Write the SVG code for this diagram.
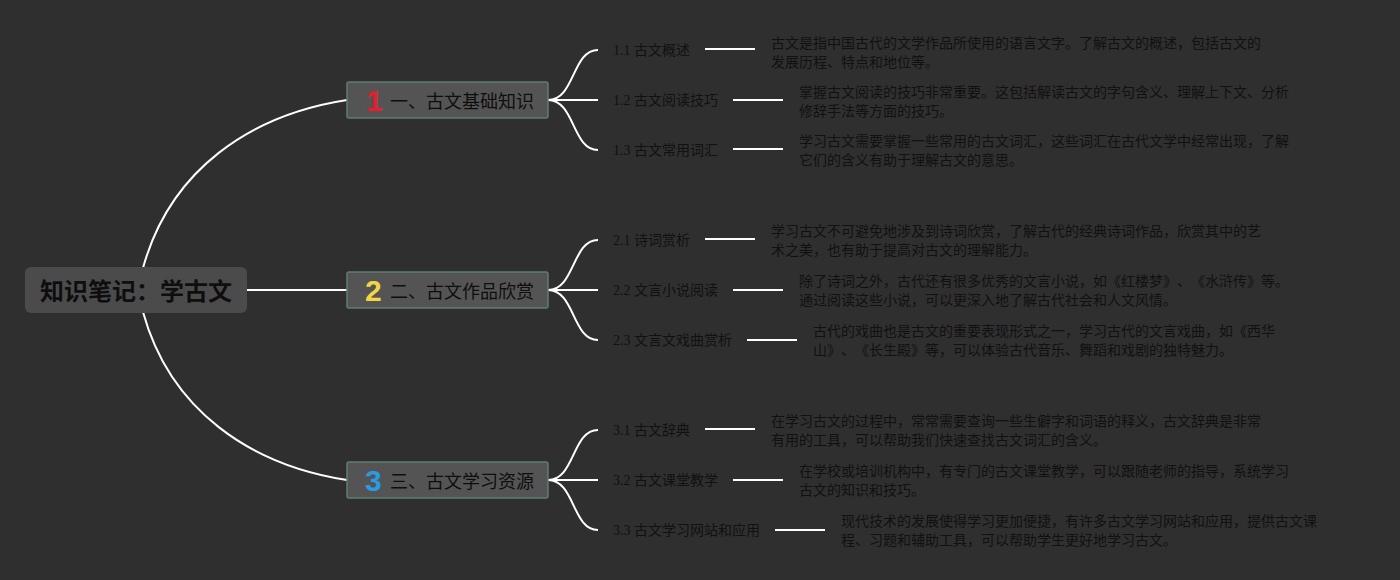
<svg xmlns="http://www.w3.org/2000/svg" width="1400" height="580" viewBox="0 0 1400 580">
<style>
text{text-spacing-trim:space-all}
.c{fill:none;stroke:#ffffff;stroke-width:2}
.root{fill:#4b4b4b}
.rt{font-family:"Noto Sans CJK SC","Liberation Sans",sans-serif;font-size:24px;font-weight:bold;fill:#0e0e0e}
.br{fill:#545454;stroke:#5e7d70;stroke-width:1.5}
.bt{font-family:"Noto Sans CJK SC","Liberation Sans",sans-serif;font-size:18px;fill:#0e0e0e}
.num{font-family:"Liberation Sans","Noto Sans CJK SC",sans-serif;font-size:30px;font-weight:bold}
.lb{font-family:"Liberation Serif","Noto Sans CJK SC",serif;font-size:14px;fill:#111}
.ds{font-family:"Noto Sans CJK SC","Liberation Sans",sans-serif;font-size:14px;fill:#111}
</style>
<rect width="1400" height="580" fill="#2f2f2f"/>
<g id="connectors">
<path class="c" d="M143,268 C170,170 250,115 347,100"/>
<path class="c" d="M246,290 L347,290"/>
<path class="c" d="M143,312 C170,410 250,465 347,480"/>
<path class="c" d="M548,100 C575,100 572,50 598,50"/>
<path class="c" d="M548,100 L598,100"/>
<path class="c" d="M548,100 C575,100 572,150 598,150"/>
<path class="c" d="M548,290 C575,290 572,240 598,240"/>
<path class="c" d="M548,290 L598,290"/>
<path class="c" d="M548,290 C575,290 572,340 598,340"/>
<path class="c" d="M548,480 C575,480 572,430 598,430"/>
<path class="c" d="M548,480 L598,480"/>
<path class="c" d="M548,480 C575,480 572,530 598,530"/>
<path class="c" d="M705,49 H755 M733,100 H783 M733,149 H783"/>
<path class="c" d="M705,239 H755 M733,290 H783 M747,340 H797"/>
<path class="c" d="M705,429 H755 M733,480 H783 M775,530 H825"/>
</g>
<g id="root">
<rect class="root" x="25" y="267" width="222" height="46" rx="6"/>
<text class="rt" x="136" y="300" text-anchor="middle">知识笔记：学古文</text>
</g>
<g id="b1">
<rect class="br" x="347" y="82" width="201" height="36" rx="2"/>
<text class="num" x="366" y="111" fill="#e3202e">1</text>
<text class="bt" x="390" y="108">一、古文基础知识</text>
</g>
<g id="b2">
<rect class="br" x="347" y="272" width="201" height="36" rx="2"/>
<text class="num" x="365" y="301" fill="#f4d444">2</text>
<text class="bt" x="390" y="298">二、古文作品欣赏</text>
</g>
<g id="b3">
<rect class="br" x="347" y="462" width="201" height="36" rx="2"/>
<text class="num" x="365" y="491" fill="#2a9be0">3</text>
<text class="bt" x="390" y="488">三、古文学习资源</text>
</g>
<g id="n11"><text class="lb" x="613" y="55">1.1 古文概述</text>
<text class="ds" x="771" y="48">古文是指中国古代的文学作品所使用的语言文字。了解古文的概述，包括古文的</text>
<text class="ds" x="771" y="67">发展历程、特点和地位等。</text></g>
<g id="n12"><text class="lb" x="613" y="105">1.2 古文阅读技巧</text>
<text class="ds" x="799" y="97">掌握古文阅读的技巧非常重要。这包括解读古文的字句含义、理解上下文、分析</text>
<text class="ds" x="799" y="116">修辞手法等方面的技巧。</text></g>
<g id="n13"><text class="lb" x="613" y="155">1.3 古文常用词汇</text>
<text class="ds" x="799" y="146">学习古文需要掌握一些常用的古文词汇，这些词汇在古代文学中经常出现，了解</text>
<text class="ds" x="799" y="165">它们的含义有助于理解古文的意思。</text></g>
<g id="n21"><text class="lb" x="613" y="245">2.1 诗词赏析</text>
<text class="ds" x="771" y="236">学习古文不可避免地涉及到诗词欣赏，了解古代的经典诗词作品，欣赏其中的艺</text>
<text class="ds" x="771" y="255">术之美，也有助于提高对古文的理解能力。</text></g>
<g id="n22"><text class="lb" x="613" y="295">2.2 文言小说阅读</text>
<text class="ds" x="799" y="286">除了诗词之外，古代还有很多优秀的文言小说，如《红楼梦》、《水浒传》等。</text>
<text class="ds" x="799" y="305">通过阅读这些小说，可以更深入地了解古代社会和人文风情。</text></g>
<g id="n23"><text class="lb" x="613" y="345">2.3 文言文戏曲赏析</text>
<text class="ds" x="813" y="336">古代的戏曲也是古文的重要表现形式之一，学习古代的文言戏曲，如《西华</text>
<text class="ds" x="813" y="355">山》、《长生殿》等，可以体验古代音乐、舞蹈和戏剧的独特魅力。</text></g>
<g id="n31"><text class="lb" x="613" y="435">3.1 古文辞典</text>
<text class="ds" x="771" y="426">在学习古文的过程中，常常需要查询一些生僻字和词语的释义，古文辞典是非常</text>
<text class="ds" x="771" y="445">有用的工具，可以帮助我们快速查找古文词汇的含义。</text></g>
<g id="n32"><text class="lb" x="613" y="485">3.2 古文课堂教学</text>
<text class="ds" x="799" y="476">在学校或培训机构中，有专门的古文课堂教学，可以跟随老师的指导，系统学习</text>
<text class="ds" x="799" y="495">古文的知识和技巧。</text></g>
<g id="n33"><text class="lb" x="613" y="535">3.3 古文学习网站和应用</text>
<text class="ds" x="841" y="526">现代技术的发展使得学习更加便捷，有许多古文学习网站和应用，提供古文课</text>
<text class="ds" x="841" y="545">程、习题和辅助工具，可以帮助学生更好地学习古文。</text></g>
</svg>
